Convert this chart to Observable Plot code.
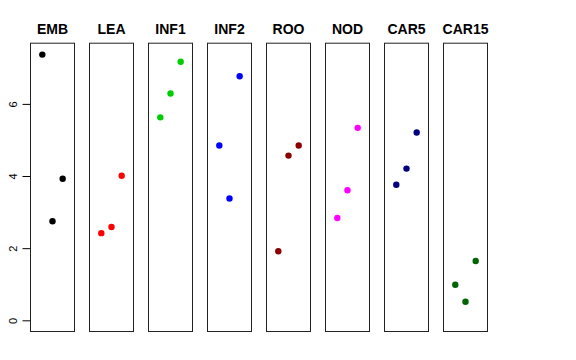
<!DOCTYPE html>
<html>
<head>
<meta charset="utf-8">
<script src="https://cdn.jsdelivr.net/npm/d3@7"></script>
<script src="https://cdn.jsdelivr.net/npm/@observablehq/plot@0.6"></script>
<style>
  html, body { margin: 0; padding: 0; background: #fff; }
  svg { font-family: "Liberation Sans", Arial, Helvetica, sans-serif; }
</style>
</head>
<body>
<div id="chart"></div>
<script>
const categories = ["EMB", "LEA", "INF1", "INF2", "ROO", "NOD", "CAR5", "CAR15"];
const colors = ["#000000", "#FF0000", "#00CD00", "#0000FF", "#8B0000", "#FF00FF", "#000080", "#006400"];
const positions = [1, 2, 3];
const EMB = [7.38, 2.76, 3.94];
const LEA = [2.43, 2.60, 4.02];
const INF1 = [5.64, 6.30, 7.18];
const INF2 = [4.86, 3.39, 6.78];
const ROO = [1.93, 4.58, 4.86];
const NOD = [2.85, 3.62, 5.35];
const CAR5 = [3.77, 4.22, 5.22];
const CAR15 = [1.00, 0.53, 1.66];
const yTicks = [0, 2, 4, 6];

const series = [EMB, LEA, INF1, INF2, ROO, NOD, CAR5, CAR15];
const data = [];
categories.forEach((c, i) => {
  series[i].forEach((v, j) => data.push({group: c, pos: positions[j], value: v}));
});

const chart = Plot.plot({
  width: 576,
  height: 360,
  marginLeft: 28.7,
  marginRight: 87.8,
  marginTop: 42.7,
  marginBottom: 29,
  style: {fontFamily: '"Liberation Sans", Arial, Helvetica, sans-serif', background: "#fff"},
  fx: {domain: categories, paddingInner: 0.247, paddingOuter: 0, axis: null},
  x: {domain: [-0.16, 4.16], axis: null},
  y: {domain: [-0.296, 7.696], axis: null},
  color: {domain: categories, range: colors},
  marks: [
    Plot.frame({stroke: "#222", strokeWidth: 1}),
    Plot.axisY({ticks: yTicks, tickSize: 7.5, tickPadding: 6, tickRotate: -90, fontSize: 11, label: null, stroke: "#000"}),
    Plot.dot(data, {fx: "group", x: "pos", y: "value", r: 3.2, fill: "group", stroke: null}),
    Plot.text(categories, {fx: d => d, text: d => d, frameAnchor: "top", lineAnchor: "middle", dy: -13.6, fontWeight: "bold", fontSize: 14, fill: "#000"})
  ]
});
document.getElementById("chart").appendChild(chart);
</script>
</body>
</html>
